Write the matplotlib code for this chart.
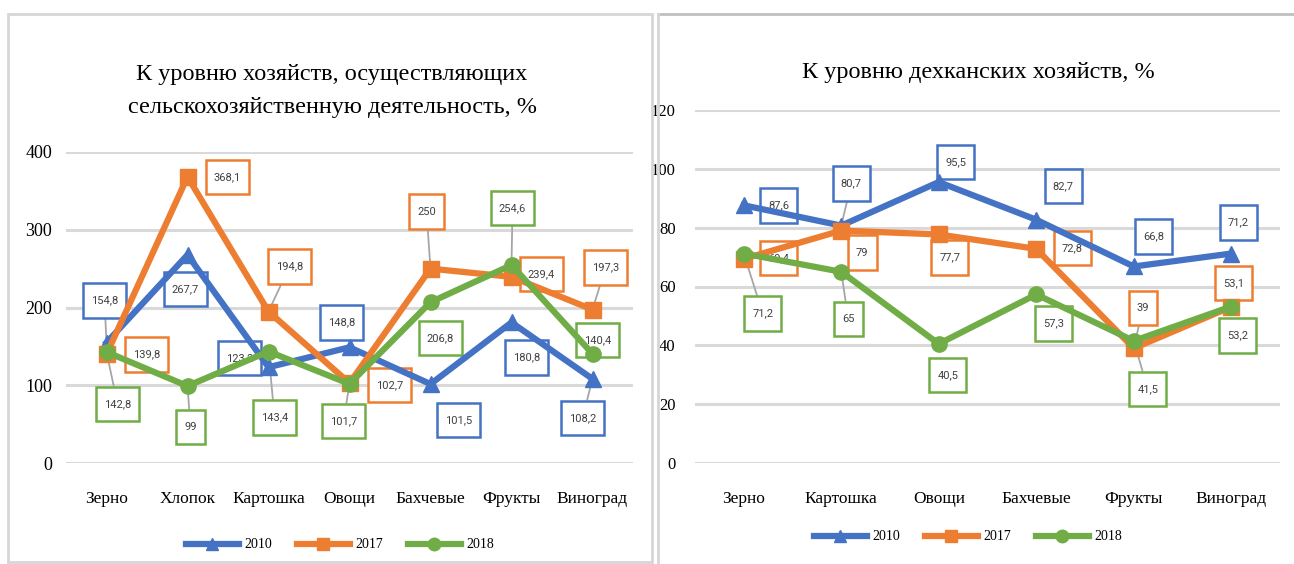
import matplotlib
matplotlib.use('Agg')
import matplotlib.pyplot as plt
from matplotlib.lines import Line2D
from matplotlib.path import Path

# ---------------- data ----------------
cats_left = ['Зерно', 'Хлопок', 'Картошка', 'Овощи', 'Бахчевые', 'Фрукты', 'Виноград']
left_2010 = [154.8, 267.7, 123.2, 148.8, 101.5, 180.8, 108.2]
left_2017 = [139.8, 368.1, 194.8, 102.7, 250, 239.4, 197.3]
left_2018 = [142.8, 99, 143.4, 101.7, 206.8, 254.6, 140.4]

cats_right = ['Зерно', 'Картошка', 'Овощи', 'Бахчевые', 'Фрукты', 'Виноград']
right_2010 = [87.6, 80.7, 95.5, 82.7, 66.8, 71.2]
right_2017 = [69.4, 79, 77.7, 72.8, 39, 53.1]
right_2018 = [71.2, 65, 40.5, 57.3, 41.5, 53.2]

years = ['2010', '2017', '2018']
title_left = 'К уровню хозяйств, осуществляющих\nсельскохозяйственную деятельность, %'
title_right = 'К уровню дехканских хозяйств, %'

# ---------------- style ----------------
colors = ['#4472C4', '#ED7D31', '#70AD47']
markers = ['^', 's', 'o']
SERIF = ['Liberation Serif', 'DejaVu Serif']
SANS = ['Roboto', 'DejaVu Sans']
GRID = '#d9d9d9'
LEADER = '#a6a6a6'

# label offsets in pixels (dx right, dy down) and whether a leader line is drawn
lab_left = [
    [(-2, -42, 1), (-2, 34, 0), (-29, -9, 0), (-8, -25, 0), (28, 36, 0), (15, 35, 0), (-10, 39, 1)],
    [(40, 0, 0), (40, 0, 0), (21, -45, 1), (40, 2, 0), (-4, -57, 1), (30, -3, 0), (13, -42, 1)],
    [(11, 52, 1), (3, 41, 1), (6, 66, 1), (-6, 37, 1), (10, 36, 0), (1, -57, 1), (5, -14, 0)],
]
lab_right = [
    [(35, 0, 0), (10, -42, 1), (17, -20, 0), (27, -34, 0), (20, -30, 0), (7, -31, 0)],
    [(35, -1, 0), (21, 22, 0), (11, 23, 0), (36, -1, 0), (9, -40, 1), (2, -24, 0)],
    [(19, 60, 1), (7, 47, 1), (9, 31, 0), (17, 29, 0), (14, 48, 1), (6, 29, 0)],
]


def tallbox(x0, y0, width, height, mutation_size):
    px = 0.72 * mutation_size
    py = 1.1 * mutation_size
    x0, y0 = x0 - px, y0 - py
    x1, y1 = x0 + width + 2 * px, y0 + height + 2 * py
    return Path([(x0, y0), (x1, y0), (x1, y1), (x0, y1), (x0, y0)], closed=True)


W, H = 1294, 564
fig = plt.figure(figsize=(W / 100, H / 100), dpi=100)


def fx(px):
    return px / W


def fy(py):
    return 1 - py / H


# panel frames
fig.add_artist(plt.Rectangle((fx(8), fy(562)), fx(652) - fx(8), fy(14) - fy(562),
                             transform=fig.transFigure, fill=False, ec='#d6d6d6', lw=2))
fig.add_artist(Line2D([fx(658), fx(1294)], [fy(14), fy(14)], transform=fig.transFigure,
                      color='#c0c0c0', lw=2))
fig.add_artist(Line2D([fx(658), fx(658)], [fy(14), fy(562)], transform=fig.transFigure,
                      color='#d6d6d6', lw=2))


def fmt(v):
    s = ('%.1f' % v).rstrip('0').rstrip('.')
    return s.replace('.', ',')


def draw(ax, cats, series, labs, ymax, ystep, ypad, yfs):
    n = len(cats)
    x = list(range(n))
    ax.set_xlim(-0.5, n - 0.5)
    ax.set_ylim(0, ymax)
    ax.set_yticks(range(0, ymax + 1, ystep))
    for y in range(0, ymax + 1, ystep):
        ax.axhline(y, color=GRID, lw=2.2, zorder=0)
    for s in ax.spines.values():
        s.set_visible(False)
    ax.tick_params(length=0)
    ax.tick_params(axis='y', pad=ypad)
    ax.tick_params(axis='x', pad=20)
    ax.set_xticks(x)
    ax.set_xticklabels(cats, fontfamily=SERIF, fontsize=12.5)
    for t in ax.get_yticklabels():
        t.set_fontfamily(SERIF)
        t.set_fontsize(yfs)
    for i, vals in enumerate(series):
        ax.plot(x, vals, color=colors[i], lw=4.5, marker=markers[i], ms=11,
                zorder=3, solid_joinstyle='miter')
    for i, vals in enumerate(series):
        for j, v in enumerate(vals):
            dx, dy, lead = labs[i][j]
            kw = {}
            if lead:
                kw['arrowprops'] = dict(arrowstyle='-', color=LEADER, lw=1.3,
                                        shrinkA=0, shrinkB=2)
            ax.annotate(fmt(v), xy=(j, v), xytext=(dx, -dy), textcoords='offset pixels',
                        ha='center', va='center', fontsize=8, color='#404040',
                        fontfamily=SANS, zorder=2,
                        bbox=dict(boxstyle=tallbox, fc='white', ec=colors[i], lw=1.8),
                        **kw)


axL = fig.add_axes([fx(66), fy(463), fx(633) - fx(66), fy(152) - fy(463)])
draw(axL, cats_left, [left_2010, left_2017, left_2018], lab_left, 400, 100, 10, 13)
fig.text(fx(332), fy(91), title_left, ha='center', va='center', fontfamily=SERIF,
         fontsize=17.5, linespacing=1.75)

axR = fig.add_axes([fx(695), fy(463), fx(1280) - fx(695), fy(110) - fy(463)])
draw(axR, cats_right, [right_2010, right_2017, right_2018], lab_right, 120, 20, 14, 12)
fig.text(fx(978), fy(73), title_right, ha='center', va='center', fontfamily=SERIF,
         fontsize=17.5)

handles = [Line2D([], [], color=colors[i], lw=4.5, marker=markers[i], ms=9) for i in range(3)]
for cx, cy in [(340, 545), (968, 537)]:
    fig.legend(handles, years, loc='center', bbox_to_anchor=(fx(cx), fy(cy)),
               ncol=3, frameon=False, prop={'family': SERIF, 'size': 10},
               handlelength=3.8, handletextpad=0.4, columnspacing=1.8)

fig.savefig('out.png', dpi=100)
